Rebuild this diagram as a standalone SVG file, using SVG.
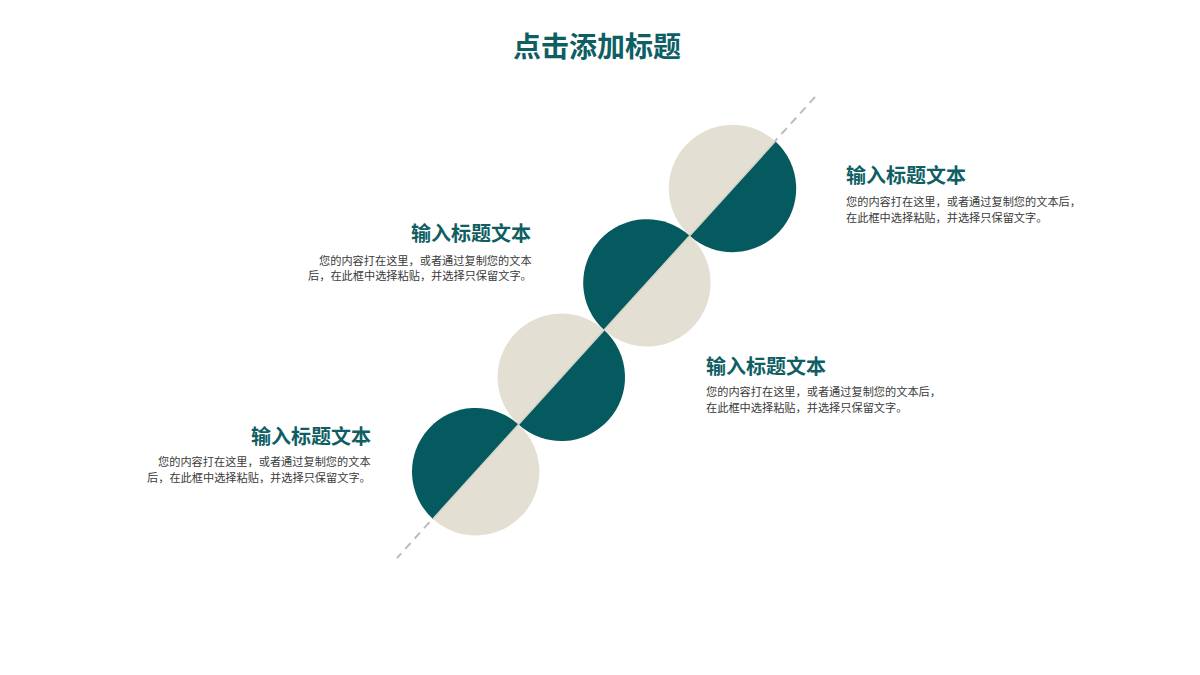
<svg xmlns="http://www.w3.org/2000/svg" xmlns:xlink="http://www.w3.org/1999/xlink" width="1200" height="675" viewBox="0 0 1200 675">
<style>
.title{font-family:"Noto Sans CJK SC","Noto Sans",sans-serif;font-size:28px;font-weight:700;fill:#0E5E63}
.head{font-family:"Noto Sans CJK SC","Noto Sans",sans-serif;font-size:20px;font-weight:700;fill:#0E5E63}
.body{font-family:"Noto Sans CJK SC","Noto Sans",sans-serif;font-size:11.2px;fill:#3A3A3A}
.teal{fill:#055A5F}
.beige{fill:#E3DFD3}
.seam{stroke:#D6D3CA;stroke-width:1.5}
.dash{stroke:#BDBDBD;stroke-width:2;stroke-dasharray:8 6;fill:none}
</style>
<defs>
<path id="top" d="M-63.7 0 A63.7 63.7 0 0 1 63.7 0 Z"/>
<path id="bot" d="M-63.7 0 A63.7 63.7 0 0 0 63.7 0 Z"/>
</defs>
<rect width="1200" height="675" fill="#FFFFFF"/>
<text class="title" x="597" y="57" text-anchor="middle">点击添加标题</text>
<g id="connectors">
<line class="dash" x1="815" y1="97" x2="397" y2="558"/>
</g>
<g id="circle1" transform="translate(732.5 188.5) rotate(-47.8)">
<use xlink:href="#top" class="beige"/>
<use xlink:href="#bot" class="teal"/>
<line class="seam" x1="-63.7" y1="0" x2="63.7" y2="0"/>
</g>
<g id="circle2" transform="translate(646.9 282.9) rotate(-47.8)">
<use xlink:href="#top" class="teal"/>
<use xlink:href="#bot" class="beige"/>
<line class="seam" x1="-63.7" y1="0" x2="63.7" y2="0"/>
</g>
<g id="circle3" transform="translate(561.3 377.3) rotate(-47.8)">
<use xlink:href="#top" class="beige"/>
<use xlink:href="#bot" class="teal"/>
<line class="seam" x1="-63.7" y1="0" x2="63.7" y2="0"/>
</g>
<g id="circle4" transform="translate(475.7 471.7) rotate(-47.8)">
<use xlink:href="#top" class="teal"/>
<use xlink:href="#bot" class="beige"/>
<line class="seam" x1="-63.7" y1="0" x2="63.7" y2="0"/>
</g>
<g id="text1">
<text class="head" x="846" y="183">输入标题文本</text>
<text class="body" x="846" y="206">您的内容打在这里，或者通过复制您的文本后，</text>
<text class="body" x="846" y="222">在此框中选择粘贴，并选择只保留文字。</text>
</g>
<g id="text2">
<text class="head" x="531" y="241" text-anchor="end">输入标题文本</text>
<text class="body" x="319" y="265">您的内容打在这里，或者通过复制您的文本</text>
<text class="body" x="308" y="280">后，在此框中选择粘贴，并选择只保留文字。</text>
</g>
<g id="text3">
<text class="head" x="706" y="374">输入标题文本</text>
<text class="body" x="706" y="396">您的内容打在这里，或者通过复制您的文本后，</text>
<text class="body" x="706" y="412">在此框中选择粘贴，并选择只保留文字。</text>
</g>
<g id="text4">
<text class="head" x="371" y="444" text-anchor="end">输入标题文本</text>
<text class="body" x="158" y="466">您的内容打在这里，或者通过复制您的文本</text>
<text class="body" x="147" y="482">后，在此框中选择粘贴，并选择只保留文字。</text>
</g>
</svg>
